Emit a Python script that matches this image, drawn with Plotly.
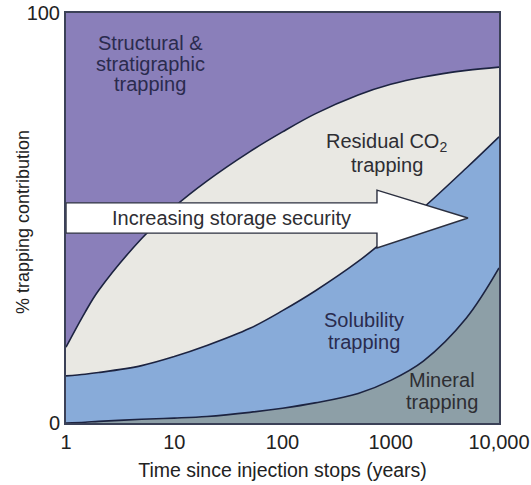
import plotly.graph_objects as go

# ---- data ----
years = [1, 1.5, 2, 5, 10, 20, 50, 100, 200, 500, 1000, 2000, 5000, 10000]
# cumulative % boundaries (bottom to top)
mineral_top = [0, 0.2, 0.4, 0.9, 1.2, 1.6, 2.6, 3.6, 4.9, 7.2, 10.4, 15.1, 25.6, 37.8]
solubility_top = [11.5, 11.9, 12.3, 14.0, 16.2, 18.9, 23.1, 27.4, 32.2, 39.4, 45.8, 52.5, 62.2, 69.8]
residual_top = [18.5, 27.0, 32.3, 45.0, 52.7, 59.0, 66.2, 71.0, 75.4, 80.0, 82.6, 84.4, 86.0, 86.8]

# block arrow outline ("Increasing storage security")
arrow_x = [1, 746, 746, 5170, 746, 746, 1, 1]
arrow_y = [53.7, 53.7, 56.8, 50, 42.7, 46.3, 46.3, 53.7]

x_tickvals = [1, 10, 100, 1000, 10000]
x_ticktext = ["1", "10", "100", "1000", "10,000"]
y_tickvals = [0, 100]
y_ticktext = ["0", "100"]

PURPLE = "#8a7fba"
LIGHT = "#e9e8e3"
BLUE = "#88abd9"
MINERAL = "#8d9fa7"
EDGE = "#1c2340"
LABEL = "#2a2b4e"
GRAYTXT = "#2e2e33"
FONT = "Liberation Sans, Arial, sans-serif"

fig = go.Figure()
fig.add_trace(go.Scatter(x=years, y=mineral_top, mode="lines", line=dict(color=EDGE, width=1.6, shape="spline"),
                         fill="tozeroy", fillcolor=MINERAL, hoverinfo="skip"))
fig.add_trace(go.Scatter(x=years, y=solubility_top, mode="lines", line=dict(color=EDGE, width=1.6, shape="spline"),
                         fill="tonexty", fillcolor=BLUE, hoverinfo="skip"))
fig.add_trace(go.Scatter(x=years, y=residual_top, mode="lines", line=dict(color=EDGE, width=1.6, shape="spline"),
                         fill="tonexty", fillcolor=LIGHT, hoverinfo="skip"))
fig.add_trace(go.Scatter(x=arrow_x, y=arrow_y, mode="lines", line=dict(color="#2b2f3f", width=1.4),
                         fill="toself", fillcolor="white", hoverinfo="skip"))

def lab(text, lx, y, color=LABEL, size=20):
    fig.add_annotation(x=lx, y=y, xref="x", yref="y", text=text, showarrow=False,
                       font=dict(family=FONT, size=size, color=color), xanchor="center", yanchor="middle")

# region labels (x in log10 units for annotations on a log axis)
lab("Structural &", 0.776, 92.7)
lab("stratigraphic", 0.776, 87.6)
lab("trapping", 0.776, 82.7)
lab("Residual CO<sub>2</sub>", 2.965, 68.3, color=GRAYTXT)
lab("trapping", 2.965, 62.9, color=GRAYTXT)
lab("Increasing storage security", 1.533, 50.0, color=GRAYTXT)
lab("Solubility", 2.753, 25.1)
lab("trapping", 2.753, 19.8)
lab("Mineral", 3.473, 10.5, color=GRAYTXT)
lab("trapping", 3.473, 5.1, color=GRAYTXT)

# y-axis title
fig.add_annotation(x=0, y=0.49, xref="paper", yref="paper", xshift=-43, textangle=-90,
                   text="% trapping contribution", showarrow=False,
                   font=dict(family=FONT, size=18, color="#222222"), xanchor="center", yanchor="middle")

fig.update_layout(
    width=531, height=485,
    margin=dict(l=66, r=32, t=13, b=62),
    paper_bgcolor="white", plot_bgcolor=PURPLE,
    showlegend=False,
    font=dict(family=FONT, size=20, color="#222222"),
)
fig.update_xaxes(type="log", range=[0, 4], tickvals=x_tickvals, ticktext=x_ticktext,
                 showgrid=False, zeroline=False, showline=True, mirror=True,
                 linecolor="#3b4157", linewidth=2, ticks="",
                 title=dict(text="Time since injection stops (years)", font=dict(size=19.5), standoff=11),
                 automargin=False)
fig.update_yaxes(range=[0, 100], tickvals=y_tickvals, ticktext=y_ticktext,
                 showgrid=False, zeroline=False, showline=True, mirror=True,
                 linecolor="#3b4157", linewidth=2, ticks="",
                 automargin=False)

fig.write_html("out.html", config={"displayModeBar": False},
               post_script="document.body.style.margin='0';")
